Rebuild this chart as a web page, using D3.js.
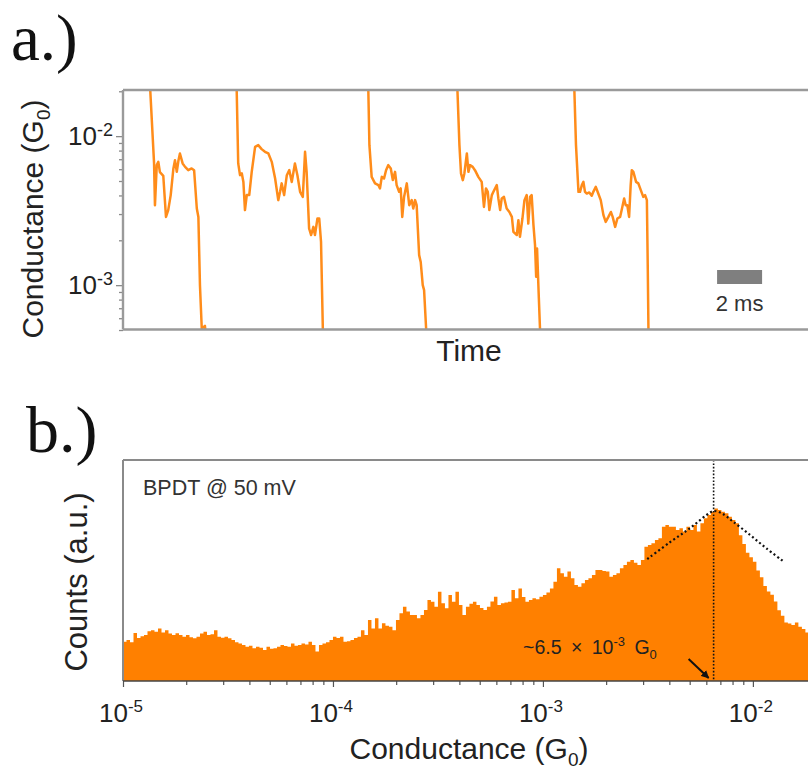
<!DOCTYPE html>
<html>
<head>
<meta charset="utf-8">
<script src="https://cdn.jsdelivr.net/npm/d3@7"></script>
<style>
  html, body { margin: 0; padding: 0; background: #fff; }
  svg { display: block; }
</style>
</head>
<body>
<svg id="fig" width="808" height="770"></svg>
<script>
// ---------- Panel a: conductance traces, [time (ms), G (G0)] ----------
const trace1 = [[1.18,2.5e-2],[1.38,6.59e-3],[1.42,3.44e-3],[1.50,6.39e-3],[1.57,6.72e-3],[1.64,5.73e-3],[1.79,5.42e-3],[1.91,2.87e-3],[2.01,3.19e-3],[2.12,4.02e-3],[2.24,6.07e-3],[2.31,6.90e-3],[2.39,5.76e-3],[2.46,6.80e-3],[2.53,7.65e-3],[2.65,6.56e-3],[2.76,6.22e-3],[2.90,5.91e-3],[3.05,6.07e-3],[3.16,5.91e-3],[3.28,3.27e-3],[3.35,2.87e-3],[3.42,1.00e-3],[3.50,5.12e-4],[3.64,5.33e-4],[3.73,4.0e-4]];
const trace2 = [[5.04,2.5e-2],[5.12,6.56e-3],[5.20,5.47e-3],[5.28,5.62e-3],[5.35,4.93e-3],[5.42,3.19e-3],[5.50,4.02e-3],[5.61,4.02e-3],[5.72,5.76e-3],[5.87,8.47e-3],[6.01,8.70e-3],[6.16,8.18e-3],[6.31,7.85e-3],[6.46,7.65e-3],[6.61,6.72e-3],[6.76,5.20e-3],[6.90,3.72e-3],[6.98,4.23e-3],[7.05,4.82e-3],[7.16,4.02e-3],[7.28,5.47e-3],[7.39,5.91e-3],[7.50,4.93e-3],[7.64,6.56e-3],[7.75,5.47e-3],[7.87,4.23e-3],[7.99,3.91e-3],[8.09,7.85e-3],[8.16,5.76e-3],[8.27,2.40e-3],[8.36,2.17e-3],[8.46,2.46e-3],[8.53,2.17e-3],[8.64,2.80e-3],[8.72,2.80e-3],[8.80,1.95e-3],[8.88,5.12e-4],[8.91,4.0e-4]];
const trace3 = [[10.89,2.5e-2],[10.95,8.70e-3],[11.05,5.33e-3],[11.20,4.82e-3],[11.35,4.69e-3],[11.42,4.46e-3],[11.50,5.33e-3],[11.60,5.20e-3],[11.69,5.91e-3],[11.79,6.39e-3],[11.90,6.07e-3],[11.99,5.07e-3],[12.09,5.76e-3],[12.16,4.69e-3],[12.27,4.23e-3],[12.34,4.46e-3],[12.41,2.87e-3],[12.49,3.91e-3],[12.61,4.82e-3],[12.72,3.44e-3],[12.83,3.72e-3],[12.90,3.27e-3],[12.98,3.72e-3],[13.05,3.44e-3],[13.16,1.59e-3],[13.23,1.43e-3],[13.32,1.00e-3],[13.38,9.26e-4],[13.47,5.12e-4],[13.49,4.0e-4]];
const trace4 = [[14.84,2.5e-2],[14.95,8.70e-3],[15.02,5.62e-3],[15.10,5.07e-3],[15.17,5.62e-3],[15.28,7.65e-3],[15.35,5.76e-3],[15.42,6.39e-3],[15.54,6.22e-3],[15.64,5.91e-3],[15.79,5.33e-3],[15.94,4.93e-3],[16.04,3.35e-3],[16.13,4.46e-3],[16.21,4.23e-3],[16.28,3.19e-3],[16.39,4.02e-3],[16.46,4.23e-3],[16.61,4.69e-3],[16.68,3.82e-3],[16.76,3.19e-3],[16.83,3.82e-3],[16.93,3.91e-3],[17.05,3.27e-3],[17.17,3.10e-3],[17.28,2.87e-3],[17.35,2.28e-3],[17.50,2.17e-3],[17.57,2.73e-3],[17.64,2.11e-3],[17.75,2.80e-3],[17.84,3.72e-3],[17.94,4.02e-3],[18.01,2.59e-3],[18.09,3.91e-3],[18.16,4.02e-3],[18.24,2.53e-3],[18.31,1.86e-3],[18.36,1.14e-3],[18.40,1.76e-3],[18.48,8.14e-4],[18.53,5.12e-4],[18.56,4.0e-4]];
const trace5 = [[20.04,2.5e-2],[20.13,8.70e-3],[20.24,4.23e-3],[20.31,4.23e-3],[20.39,4.69e-3],[20.46,4.93e-3],[20.53,4.23e-3],[20.61,4.12e-3],[20.72,4.19e-3],[20.83,3.98e-3],[20.90,4.23e-3],[21.01,4.57e-3],[21.12,4.12e-3],[21.23,3.72e-3],[21.35,2.95e-3],[21.45,2.66e-3],[21.57,2.87e-3],[21.68,3.10e-3],[21.76,2.87e-3],[21.87,2.46e-3],[21.97,2.80e-3],[22.09,2.87e-3],[22.16,3.19e-3],[22.27,3.82e-3],[22.34,3.44e-3],[22.41,3.44e-3],[22.49,2.87e-3],[22.56,4.69e-3],[22.61,5.91e-3],[22.68,5.76e-3],[22.80,4.93e-3],[22.90,4.82e-3],[23.01,4.34e-3],[23.12,3.91e-3],[23.20,4.02e-3],[23.28,3.72e-3],[23.32,1.29e-3],[23.35,5.0e-4],[23.36,4.0e-4]];

const traceMajorTicks = [1e-3, 1e-2];
const traceMinorTicks = [5e-4,6e-4,7e-4,8e-4,9e-4,2e-3,3e-3,4e-3,5e-3,6e-3,7e-3,8e-3,9e-3,2e-2];
const scaleBarMs = [26.4, 28.4];   // 2 ms bar

// ---------- Panel b: log-binned conductance histogram ----------
const histLogStart = -5;       // first bin edge, log10(G/G0)
const histBinsPerDecade = 60;
const histCounts = [
  17.8,18.5,17.5,21.7,19.5,20.2,20.8,22.5,23.0,22.3,
  23.8,22.0,23.0,21.5,20.8,21.6,20.8,20.0,20.8,19.8,
  19.3,20.0,21.5,22.3,20.8,21.2,23.0,20.0,19.6,20.0,
  19.3,18.6,17.5,17.0,16.3,15.5,16.0,14.8,15.5,15.0,
  14.0,15.5,14.6,14.8,15.5,16.3,15.8,15.5,17.0,16.0,
  16.3,17.0,16.5,17.8,16.3,13.3,16.3,17.0,17.5,18.6,
  20.0,19.5,20.0,17.8,18.0,18.6,19.5,20.0,23.0,20.8,
  27.6,23.8,28.4,23.8,26.1,25.0,24.6,23.0,27.6,30.6,
  33.6,31.4,29.9,29.9,28.4,29.9,32.1,36.7,35.9,33.6,
  40.4,35.2,32.9,38.9,35.9,40.4,34.4,29.9,33.6,35.0,
  35.9,34.4,33.0,32.1,33.6,36.0,38.1,34.4,35.2,35.5,
  35.9,41.2,37.4,41.9,38.0,35.9,36.7,37.4,37.0,38.1,
  38.9,40.0,41.9,44.9,51.0,48.7,47.2,49.5,46.5,43.4,
  42.7,44.2,45.7,46.5,48.0,50.2,50.2,49.8,49.5,47.2,
  48.0,48.7,51.0,52.5,54.0,54.8,53.5,52.5,54.8,60.8,
  61.5,62.3,63.8,64.6,69.8,70.6,69.8,69.8,68.3,69.1,
  67.6,69.8,68.3,70.6,67.6,71.4,73.6,75.1,76.6,78.1,
  77.4,76.6,75.9,74.3,72.9,71.4,66.0,62.0,58.0,56.0,
  54.0,50.0,47.0,43.0,40.5,39.0,36.0,32.0,29.5,26.5,
  26.0,25.3,26.5,24.6,23.5,22.0,21.5
];
// peak fit drawn over the histogram
const fitG      = [3.14e-3, 4.03e-3, 5.01e-3, 6.02e-3, 6.5e-3, 7.10e-3, 8.05e-3, 9.69e-3, 1.16e-2, 1.39e-2];
const fitCounts = [55.2, 62.8, 69.1, 75.1, 76.9, 75.9, 72.1, 66.1, 60.0, 54.3];
const peakG = 6.5e-3;
const histTicks = [1e-5, 1e-4, 1e-3, 1e-2];

// ---------- drawing ----------
const SANS = "'Liberation Sans', Arial, Helvetica, sans-serif";
const SERIF = "'Liberation Serif', 'Times New Roman', serif";
const svg = d3.select("#fig").attr("font-family", SANS);
const defs = svg.append("defs");

function expLabel(sel, exp, supSize, supDy) {
  sel.append("tspan").text("10");
  sel.append("tspan").attr("font-size", supSize).attr("dy", supDy).text("-" + exp);
}

// ===== Panel a =====
const A = { left: 123, right: 808, top: 90, bottom: 329.5 };
const xT = d3.scaleLinear().domain([0, 30.44]).range([A.left, A.right]);
const yC = d3.scaleLog().domain([5.04e-4, 2.04e-2]).range([A.bottom, A.top]);

defs.append("clipPath").attr("id", "clipA").append("rect")
  .attr("x", A.left).attr("y", A.top).attr("width", A.right - A.left + 5).attr("height", A.bottom - A.top);

const gA = svg.append("g");
const line = d3.line().x(d => xT(d[0])).y(d => yC(d[1]));
gA.append("g").attr("clip-path", "url(#clipA)")
  .selectAll("path").data([trace1, trace2, trace3, trace4, trace5]).join("path")
  .attr("d", line).attr("fill", "none").attr("stroke", "#ff8c1a")
  .attr("stroke-width", 2.5).attr("stroke-linejoin", "round");

// left axis ticks
const axMinor = gA.append("g").attr("transform", `translate(${A.left},0)`)
  .call(d3.axisLeft(yC).tickValues(traceMinorTicks).tickSize(4).tickFormat(""));
const axMajor = gA.append("g").attr("transform", `translate(${A.left},0)`)
  .call(d3.axisLeft(yC).tickValues(traceMajorTicks).tickSize(7).tickFormat(""));
[axMinor, axMajor].forEach(a => {
  a.select(".domain").remove();
  a.selectAll("line").attr("stroke", "#8a8a8a").attr("stroke-width", 1.3);
});
traceMajorTicks.forEach(v => {
  const exp = Math.round(-Math.log10(v));
  gA.append("text").attr("x", A.left - 10).attr("y", yC(v) + 9)
    .attr("text-anchor", "end").attr("font-size", 26).attr("fill", "#222")
    .call(s => expLabel(s, exp, 18, -9));
});

// frame
gA.append("line").attr("x1", A.left).attr("x2", 808).attr("y1", A.top).attr("y2", A.top)
  .attr("stroke", "#9a9a9a").attr("stroke-width", 2.6);
gA.append("line").attr("x1", A.left).attr("x2", 808).attr("y1", A.bottom).attr("y2", A.bottom)
  .attr("stroke", "#9a9a9a").attr("stroke-width", 2.6);
gA.append("line").attr("x1", A.left).attr("x2", A.left).attr("y1", A.top).attr("y2", A.bottom)
  .attr("stroke", "#9a9a9a").attr("stroke-width", 2.4);

// scale bar
gA.append("rect").attr("x", xT(scaleBarMs[0])).attr("y", 270)
  .attr("width", xT(scaleBarMs[1]) - xT(scaleBarMs[0])).attr("height", 14).attr("fill", "#7f7f7f");
gA.append("text").attr("x", (xT(scaleBarMs[0]) + xT(scaleBarMs[1])) / 2).attr("y", 311)
  .attr("text-anchor", "middle").attr("font-size", 22).attr("fill", "#333").text("2 ms");

// axis titles
gA.append("text").attr("x", 469).attr("y", 361).attr("text-anchor", "middle")
  .attr("font-size", 30).attr("fill", "#222").text("Time");
gA.append("text").attr("transform", "translate(43,219) rotate(-90)").attr("text-anchor", "middle")
  .attr("font-size", 30).attr("fill", "#222")
  .call(s => {
    s.append("tspan").text("Conductance (G");
    s.append("tspan").attr("font-size", 19).attr("dy", 7).text("0");
    s.append("tspan").attr("dy", -7).text(")");
  });
svg.append("text").attr("x", 11).attr("y", 60).attr("font-family", SERIF)
  .attr("font-size", 65).attr("fill", "#111").text("a.)");

// ===== Panel b =====
const B = { left: 123, right: 808, top: 460, bottom: 681 };
const xG = d3.scaleLog().domain([1e-5, 1.83e-2]).range([B.left, B.right]);
const yN = d3.scaleLinear().domain([0, 100]).range([B.bottom, B.top]);

defs.append("clipPath").attr("id", "clipB").append("rect")
  .attr("x", B.left).attr("y", B.top).attr("width", B.right - B.left + 5).attr("height", B.bottom - B.top);

const gB = svg.append("g");
const binEdge = i => Math.pow(10, histLogStart + i / histBinsPerDecade);
const histPts = histCounts.map((c, i) => ({ g: binEdge(i), c }));
histPts.push({ g: binEdge(histCounts.length), c: histCounts[histCounts.length - 1] });
const area = d3.area().curve(d3.curveStepAfter)
  .x(d => xG(d.g)).y0(yN(0)).y1(d => yN(d.c));
gB.append("path").attr("clip-path", "url(#clipB)").datum(histPts)
  .attr("d", area).attr("fill", "#ff8000");

// peak marker and fit
gB.append("line").attr("x1", xG(peakG)).attr("x2", xG(peakG)).attr("y1", B.top).attr("y2", B.bottom)
  .attr("stroke", "#111").attr("stroke-width", 1.6).attr("stroke-dasharray", "1.6,1.8");
const fitLine = d3.line().curve(d3.curveCatmullRom).x(d => xG(d[0])).y(d => yN(d[1]));
gB.append("path").datum(fitG.map((g, i) => [g, fitCounts[i]]))
  .attr("d", fitLine).attr("fill", "none").attr("stroke", "#111")
  .attr("stroke-width", 2.2).attr("stroke-dasharray", "2,2.6");

// frame
gB.append("line").attr("x1", B.left).attr("x2", 808).attr("y1", B.top).attr("y2", B.top)
  .attr("stroke", "#8a8a8a").attr("stroke-width", 1.8);
gB.append("line").attr("x1", B.left).attr("x2", B.left).attr("y1", B.top).attr("y2", B.bottom)
  .attr("stroke", "#8a8a8a").attr("stroke-width", 2);

// bottom axis
const minorG = [];
for (let e = -5; e <= -2; e++) for (let m = 2; m <= 9; m++) {
  const v = m * Math.pow(10, e);
  if (v < 1.83e-2) minorG.push(v);
}
const bMinor = gB.append("g").attr("transform", `translate(0,${B.bottom})`)
  .call(d3.axisBottom(xG).tickValues(minorG).tickSize(4).tickFormat(""));
const bMajor = gB.append("g").attr("transform", `translate(0,${B.bottom})`)
  .call(d3.axisBottom(xG).tickValues(histTicks).tickSize(6).tickFormat(""));
[bMinor, bMajor].forEach(a => {
  a.select(".domain").remove();
  a.selectAll("line").attr("stroke", "#555").attr("stroke-width", 1.2);
});
gB.append("line").attr("x1", B.left).attr("x2", 808).attr("y1", B.bottom).attr("y2", B.bottom)
  .attr("stroke", "#444").attr("stroke-width", 1.6);
histTicks.forEach(v => {
  const exp = Math.round(-Math.log10(v));
  gB.append("text").attr("x", xG(v) - 2).attr("y", 722)
    .attr("text-anchor", "middle").attr("font-size", 26).attr("fill", "#222")
    .call(s => expLabel(s, exp, 17, -10));
});

// annotations
gB.append("text").attr("x", 143).attr("y", 495).attr("font-size", 21.5).attr("fill", "#333")
  .text("BPDT @ 50 mV");
gB.append("text").attr("x", 523).attr("y", 654).attr("font-size", 19.5).attr("fill", "#222")
  .attr("word-spacing", 4)
  .call(s => {
    s.append("tspan").text("~6.5 × 10");
    s.append("tspan").attr("font-size", 13).attr("dy", -8).text("-3");
    s.append("tspan").attr("dy", 8).text(" G");
    s.append("tspan").attr("font-size", 13).attr("dy", 5).text("0");
  });
defs.append("marker").attr("id", "arrowHead").attr("viewBox", "0 0 10 10")
  .attr("refX", 9).attr("refY", 5).attr("markerWidth", 4).attr("markerHeight", 4)
  .attr("orient", "auto").append("path").attr("d", "M0,0 L10,5 L0,10 z").attr("fill", "#111");
const tipX = xG(peakG) - 5, tipY = yN(0) - 3;
gB.append("line").attr("x1", tipX - 20).attr("y1", tipY - 19).attr("x2", tipX).attr("y2", tipY)
  .attr("stroke", "#111").attr("stroke-width", 2).attr("marker-end", "url(#arrowHead)");

// axis titles
gB.append("text").attr("x", 469).attr("y", 759).attr("text-anchor", "middle")
  .attr("font-size", 30).attr("fill", "#222")
  .call(s => {
    s.append("tspan").text("Conductance (G");
    s.append("tspan").attr("font-size", 19).attr("dy", 7).text("0");
    s.append("tspan").attr("dy", -7).text(")");
  });
gB.append("text").attr("transform", "translate(87,582) rotate(-90)").attr("text-anchor", "middle")
  .attr("font-size", 31).attr("fill", "#222").text("Counts (a.u.)");
svg.append("text").attr("x", 26).attr("y", 452).attr("font-family", SERIF)
  .attr("font-size", 66).attr("fill", "#111").text("b.)");
</script>
</body>
</html>
